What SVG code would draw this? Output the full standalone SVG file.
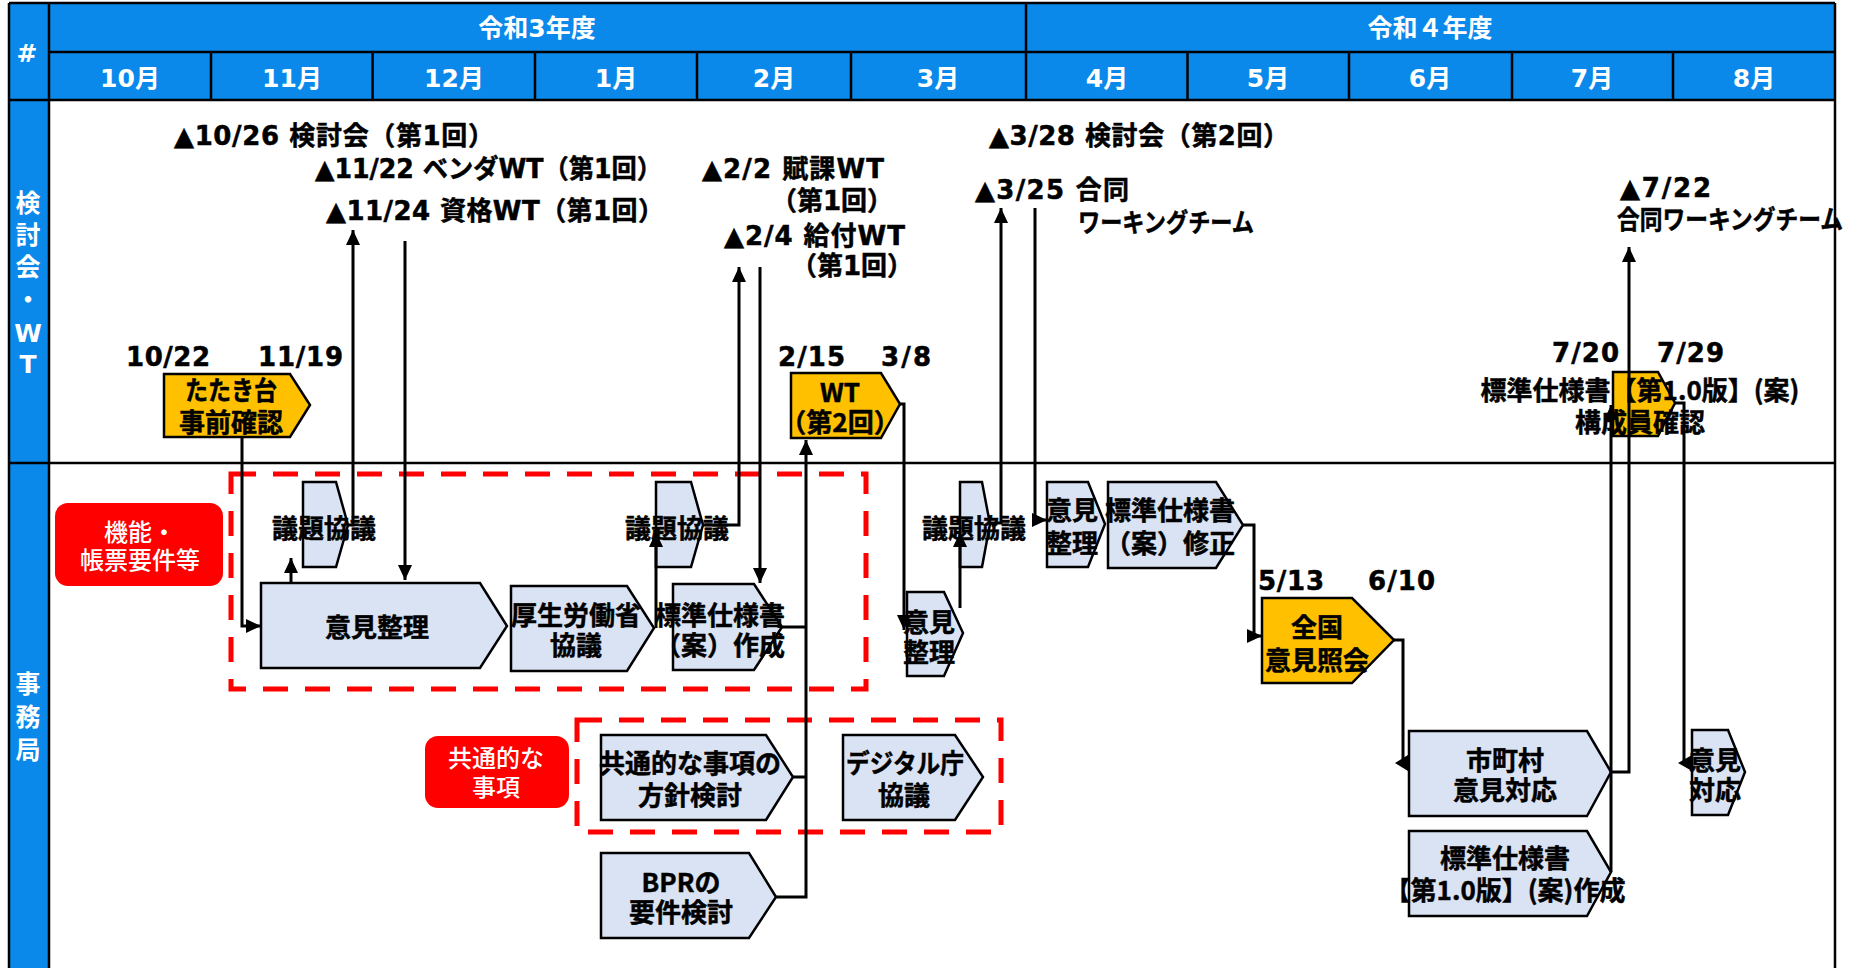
<svg xmlns="http://www.w3.org/2000/svg" width="1849" height="968" viewBox="0 0 1849 968">
<defs>
<style>
.hdr{fill:#0A89EB}
.frame{stroke:#000;stroke-width:2.5;fill:none}
.node{fill:#DAE3F3;stroke:#000;stroke-width:2.5}
.ynode{fill:#FFC000;stroke:#000;stroke-width:2.5}
.conn{stroke:#000;stroke-width:3;fill:none}
.arr{marker-end:url(#ah)}
.dash{fill:none;stroke:#FF0000;stroke-width:5;stroke-dasharray:25 17}
.lab{fill:#FF0000}
.t{font-family:"Noto Sans CJK JP",sans-serif;font-weight:700;font-size:26px;fill:#000;stroke:#000;stroke-width:0.5;text-anchor:middle}
.s{font-family:"DejaVu Sans","Noto Sans CJK JP",sans-serif;font-weight:700;font-size:26px;fill:#000;stroke:#000;stroke-width:0.5}
.h{font-family:"DejaVu Sans","Noto Sans CJK JP",sans-serif;font-weight:700;font-size:25px;fill:#fff;text-anchor:middle}
.wl{font-family:"Noto Sans CJK JP",sans-serif;font-weight:500;font-size:24px;fill:#fff;text-anchor:middle}
</style>
<marker id="ah" markerUnits="userSpaceOnUse" markerWidth="15" markerHeight="14" refX="15" refY="7" orient="auto">
<path d="M0,0 L15,7 L0,14 z" fill="#000"/>
</marker>
</defs>
<rect x="0" y="0" width="1849" height="968" fill="#fff"/>

<g id="frame">
<rect class="hdr" x="9" y="3" width="1826" height="97"/>
<rect class="hdr" x="9" y="100" width="40" height="868"/>
<path class="frame" d="M9,3 H1835 M9,3 V968 M49,3 V968 M1835,3 V968 M9,100 H1835 M9,463 H1835 M49,52 H1835 M1026,3 V100 M211,52 V100 M372.6,52 V100 M535,52 V100 M697,52 V100 M851,52 V100 M1187.5,52 V100 M1349,52 V100 M1512,52 V100 M1673,52 V100"/>
<text class="h" x="27" y="62">#</text>
<text class="h" x="537" y="37">令和3年度</text>
<text class="h" x="1430" y="37">令和４年度</text>
<text class="h" x="130" y="87">10月</text>
<text class="h" x="292" y="87">11月</text>
<text class="h" x="454" y="87">12月</text>
<text class="h" x="616" y="87">1月</text>
<text class="h" x="774" y="87">2月</text>
<text class="h" x="938" y="87">3月</text>
<text class="h" x="1107" y="87">4月</text>
<text class="h" x="1268" y="87">5月</text>
<text class="h" x="1430" y="87">6月</text>
<text class="h" x="1592" y="87">7月</text>
<text class="h" x="1754" y="87">8月</text>
<text class="h" x="28" y="212">検</text>
<text class="h" x="28" y="244">討</text>
<text class="h" x="28" y="276">会</text>
<text class="h" x="28" y="309">・</text>
<text class="h" x="28" y="342">W</text>
<text class="h" x="28" y="373">T</text>
<text class="h" x="28" y="693">事</text>
<text class="h" x="28" y="726">務</text>
<text class="h" x="28" y="759">局</text>
</g>

<g id="groups">
<rect class="dash" x="231" y="474" width="635" height="215"/>
<rect class="dash" x="577" y="720" width="424" height="112"/>
<rect class="lab" x="55" y="503" width="168" height="83" rx="13"/>
<text class="wl" x="140" y="541">機能・</text>
<text class="wl" x="140" y="569">帳票要件等</text>
<rect class="lab" x="425" y="736" width="144" height="72" rx="13"/>
<text class="wl" x="496" y="767">共通的な</text>
<text class="wl" x="496" y="796">事項</text>
</g>

<g id="events">
<text class="s" x="174" y="145" textLength="320" lengthAdjust="spacing">▲10/26 検討会（第1回）</text>
<text class="s" x="315" y="178" textLength="347" lengthAdjust="spacingAndGlyphs">▲11/22 ベンダWT（第1回）</text>
<text class="s" x="326" y="220" textLength="338" lengthAdjust="spacing">▲11/24 資格WT（第1回）</text>
<text class="s" x="702" y="178" textLength="182" lengthAdjust="spacing">▲2/2 賦課WT</text>
<text class="s" x="771" y="210">（第1回）</text>
<text class="s" x="724" y="245" textLength="181" lengthAdjust="spacing">▲2/4 給付WT</text>
<text class="s" x="791" y="275">（第1回）</text>
<text class="s" x="989" y="145" textLength="300" lengthAdjust="spacing">▲3/28 検討会（第2回）</text>
<text class="s" x="975" y="199" textLength="154" lengthAdjust="spacing">▲3/25 合同</text>
<text class="s" x="1078" y="232" textLength="176" lengthAdjust="spacingAndGlyphs">ワーキングチーム</text>
<text class="s" x="1620" y="197" textLength="91" lengthAdjust="spacing">▲7/22</text>
<text class="s" x="1617" y="229" textLength="226" lengthAdjust="spacingAndGlyphs">合同ワーキングチーム</text>
<text class="s" x="126" y="366" textLength="84" lengthAdjust="spacing">10/22</text>
<text class="s" x="258" y="366" textLength="85" lengthAdjust="spacing">11/19</text>
<text class="s" x="778" y="366" textLength="67" lengthAdjust="spacing">2/15</text>
<text class="s" x="881" y="366" textLength="50" lengthAdjust="spacing">3/8</text>
<text class="s" x="1552" y="362" textLength="67" lengthAdjust="spacing">7/20</text>
<text class="s" x="1657" y="362" textLength="67" lengthAdjust="spacing">7/29</text>
<text class="s" x="1258" y="590" textLength="66" lengthAdjust="spacing">5/13</text>
<text class="s" x="1368" y="590" textLength="67" lengthAdjust="spacing">6/10</text>
</g>

<g id="n-tatakidai">
<polygon class="ynode" points="164,374 290,374 310,405 290,437 164,437"/>
<text class="t" x="231" y="400" textLength="92" lengthAdjust="spacingAndGlyphs">たたき台</text>
<text class="t" x="231" y="432">事前確認</text>
</g>
<g id="n-wt2">
<polygon class="ynode" points="791,373 881,373 900,404 881,438 791,438"/>
<text class="t" x="840" y="402">WT</text>
<text class="t" x="840" y="432">（第2回）</text>
</g>
<g id="n-kouseiin">
<polygon class="ynode" points="1613,372 1658,372 1675,403 1658,436 1613,436"/>
</g>
<g id="n-zenkoku">
<polygon class="ynode" points="1262,598 1352,598 1394,640 1352,683 1262,683"/>
<text class="t" x="1317" y="637">全国</text>
<text class="t" x="1317" y="670">意見照会</text>
</g>

<g id="n-gidai1">
<polygon class="node" points="303,482 336,482 348,525 336,567 303,567"/>
<text class="t" x="324" y="538">議題協議</text>
</g>
<g id="n-iken1">
<polygon class="node" points="261,583 480,583 507,626 480,668 261,668"/>
<text class="t" x="377" y="637">意見整理</text>
</g>
<g id="n-kousei">
<polygon class="node" points="511,586 627,586 654,628 627,671 511,671"/>
<text class="t" x="576" y="625">厚生労働省</text>
<text class="t" x="576" y="655">協議</text>
</g>
<g id="n-gidai2">
<polygon class="node" points="656,482 691,482 703,525 691,567 656,567"/>
<text class="t" x="677" y="538">議題協議</text>
</g>
<g id="n-sakusei">
<polygon class="node" points="673,584 754,584 782,627 754,670 673,670"/>
<text class="t" x="720" y="625">標準仕様書</text>
<text class="t" x="720" y="655">（案）作成</text>
</g>
<g id="n-iken2">
<polygon class="node" points="907,592 944,592 963,633 944,676 907,676"/>
<text class="t" x="929" y="632">意見</text>
<text class="t" x="929" y="662">整理</text>
</g>
<g id="n-gidai3">
<polygon class="node" points="960,482 982,482 990,524 982,567 960,567"/>
<text class="t" x="974" y="538">議題協議</text>
</g>
<g id="n-iken3">
<polygon class="node" points="1047,482 1088,482 1105,524 1088,567 1047,567"/>
<text class="t" x="1072" y="520">意見</text>
<text class="t" x="1072" y="553">整理</text>
</g>
<g id="n-shusei">
<polygon class="node" points="1108,482 1216,482 1243,525 1216,568 1108,568"/>
<text class="t" x="1170" y="520">標準仕様書</text>
<text class="t" x="1170" y="553">（案）修正</text>
</g>
<g id="n-kyotsu">
<polygon class="node" points="601,735 766,735 793,777 766,820 601,820"/>
<text class="t" x="690" y="773">共通的な事項の</text>
<text class="t" x="690" y="805">方針検討</text>
</g>
<g id="n-digital">
<polygon class="node" points="843,735 955,735 983,777 955,820 843,820"/>
<text class="t" x="905" y="773" textLength="118" lengthAdjust="spacingAndGlyphs">デジタル庁</text>
<text class="t" x="904" y="805">協議</text>
</g>
<g id="n-bpr">
<polygon class="node" points="601,853 749,853 776,897 749,938 601,938"/>
<text class="t" x="681" y="892">BPRの</text>
<text class="t" x="681" y="922">要件検討</text>
</g>
<g id="n-shichoson">
<polygon class="node" points="1409,731 1587,731 1611,772 1587,816 1409,816"/>
<text class="t" x="1505" y="770">市町村</text>
<text class="t" x="1505" y="800">意見対応</text>
</g>
<g id="n-v10">
<polygon class="node" points="1409,831 1587,831 1611,872 1587,916 1409,916"/>
<text class="t" x="1505" y="868">標準仕様書</text>
<text class="t" x="1505" y="900">【第1.0版】(案)作成</text>
</g>
<g id="n-iken4">
<polygon class="node" points="1692,730 1728,730 1745,772 1728,815 1692,815"/>
<text class="t" x="1715" y="770">意見</text>
<text class="t" x="1715" y="800">対応</text>
</g>

<g id="connectors">
<path class="conn arr" d="M242,437 V626 H261"/>
<path class="conn arr" d="M348,525 H353 V230"/>
<path class="conn arr" d="M405,241 V580"/>
<path class="conn arr" d="M291,583 V558"/>
<path class="conn arr" d="M703,525 H739 V267"/>
<path class="conn arr" d="M760,267 V583"/>
<path class="conn arr" d="M656,628 V532"/>
<path class="conn arr" d="M776,897 H806 V440"/>
<path class="conn" d="M793,777 H806 M782,627 H806"/>
<path class="conn arr" d="M900,404 H904 V630"/>
<path class="conn arr" d="M960,608 V532"/>
<path class="conn arr" d="M990,523 H1001 V208"/>
<path class="conn arr" d="M1035,208 V520 H1047"/>
<path class="conn arr" d="M1243,525 H1254 V636 H1262"/>
<path class="conn" d="M1394,640 H1403 V764"/>
<polygon points="1395,763 1408,755 1408,771" fill="#000"/>
<path class="conn arr" d="M1611,772 H1629 V247"/>
<path class="conn arr" d="M1611,872 V405"/>
<path class="conn" d="M1675,403 H1684 V764"/>
<polygon points="1678,763 1692,755 1692,771" fill="#000"/>
</g>

<g id="n-kouseiin-text">
<text class="t" x="1640" y="400">標準仕様書【第1.0版】(案)</text>
<text class="t" x="1640" y="432">構成員確認</text>
</g>
</svg>
